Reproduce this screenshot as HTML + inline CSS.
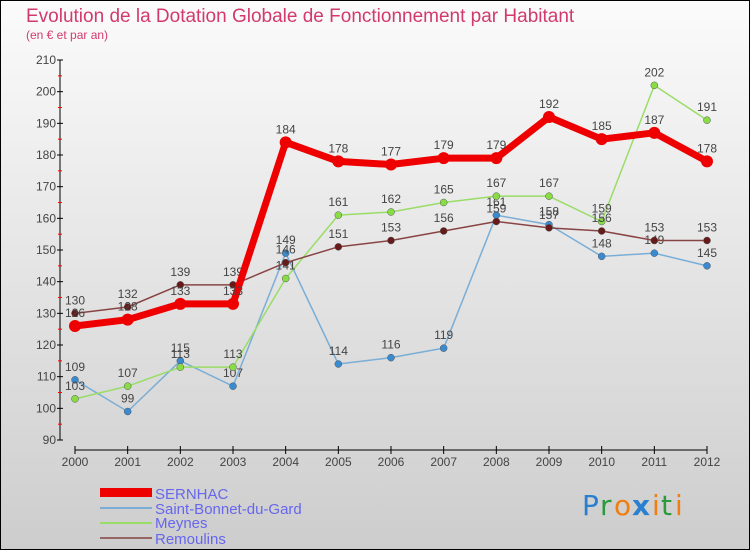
<!DOCTYPE html>
<html><head><meta charset="utf-8"><style>
body{margin:0;width:750px;height:550px;overflow:hidden;font-family:"Liberation Sans",sans-serif}
#wrap{position:absolute;left:0;top:0;width:748px;height:548px;border:1px solid #000;background:linear-gradient(#fbfbfb,#cdcdcd)}
</style></head><body>
<div id="wrap">
<svg id="c" width="750" height="550" style="position:absolute;left:-1px;top:-1px">
<text x="26" y="22" font-size="19" fill="#d23a6e">Evolution de la Dotation Globale de Fonctionnement par Habitant</text>
<text x="26" y="39" font-size="12" fill="#d23a6e">(en € et par an)</text>
<g id="axes"></g><g id="series"></g>
<g>
<rect x="100" y="488" width="52" height="9" fill="#e00"/>
<text x="155" y="499" font-size="15" fill="#6666ee">SERNHAC</text>
<rect x="100" y="507" width="52" height="2" fill="#7aaed6"/>
<text x="155" y="514" font-size="15" fill="#6666ee">Saint-Bonnet-du-Gard</text>
<rect x="100" y="522" width="52" height="2" fill="#99dd66"/>
<text x="155" y="528" font-size="15" fill="#6666ee">Meynes</text>
<rect x="100" y="537" width="52" height="2" fill="#996666"/>
<text x="155" y="544" font-size="15" fill="#6666ee">Remoulins</text>
</g>
<g font-size="28" font-family="'DejaVu Sans',sans-serif">
<text x="582" y="515" fill="#2a7fd0">P</text><text x="600" y="515" fill="#2a9a3a">r</text><text x="614" y="515" fill="#f07d10">o</text><text x="632" y="515" fill="#2a7fd0" font-weight="bold">x</text><text x="652" y="515" fill="#f07d10">i</text><text x="661" y="515" fill="#2a9a3a">t</text><text x="675" y="515" fill="#f07d10">i</text>
</g>
</svg></div>
<script>
const years=[2000,2001,2002,2003,2004,2005,2006,2007,2008,2009,2010,2011,2012];
const yTicks=[90,100,110,120,130,140,150,160,170,180,190,200,210];
const sernhac=[126,128,133,133,184,178,177,179,179,192,185,187,178];
const saintBonnet=[109,99,115,107,149,114,116,119,161,158,148,149,145];
const meynes=[103,107,113,113,141,161,162,165,167,167,159,202,191];
const remoulins=[130,132,139,139,146,151,153,156,159,157,156,153,153];
const NS="http://www.w3.org/2000/svg";
const X=i=>75+i*(632/12);
const Y=v=>440-(v-90)*(380/120);
function mk(tag,attrs,parent,txt){const e=document.createElementNS(NS,tag);for(const k in attrs)e.setAttribute(k,attrs[k]);if(txt!=null)e.textContent=txt;parent.appendChild(e);return e;}
const ax=document.getElementById('axes');
let l=mk('line',{x1:60,y1:Y(210),x2:60,y2:Y(90),stroke:'#000'},ax);


yTicks.forEach(v=>{
  mk('line',{x1:57,x2:63,y1:Y(v),y2:Y(v),stroke:'#000'},ax);
  if(v<210) mk('line',{x1:58,x2:62,y1:Y(v+5),y2:Y(v+5),stroke:'#f00'},ax);
  const t=mk('text',{x:56,y:Y(v)+4,'font-size':12,fill:'#444','text-anchor':'end'},ax,v);
  
  
});
l=mk('line',{x1:X(0),x2:X(12),y1:450,y2:450,stroke:'#000'},ax);


years.forEach((y,i)=>{
  mk('line',{x1:X(i),x2:X(i),y1:446,y2:454,stroke:'#000'},ax);
  const t=mk('text',{x:X(i),y:466,'font-size':12,fill:'#444','text-anchor':'middle'},ax,y);
  
  
});
const sg=document.getElementById('series');
function draw(vals,color,w,r,dot,name){
  const g=mk('g',{},sg);
  
  
  mk('polyline',{points:vals.map((v,i)=>X(i)+','+Y(v)).join(' '),fill:'none',stroke:color,'stroke-width':w,'stroke-linejoin':'round'},g);
  vals.forEach((v,i)=>{
    const c=mk('circle',{cx:X(i),cy:Y(v),r:r,fill:dot,stroke:dot==color?'none':'#555','stroke-width':0.5},g);
    
    
    const t=mk('text',{x:X(i),y:Y(v)-9,'font-size':12,fill:'#444','text-anchor':'middle'},g,v);
    
    
  });
}
draw(saintBonnet,'#7aaed6',1.5,3.5,'#3a8ad0','saint-bonnet');
draw(meynes,'#99dd66',1.5,3.5,'#88dd44','meynes');
draw(remoulins,'#884444',1.5,3.5,'#661a1a','remoulins');
draw(sernhac,'#ee0000',7,6,'#ee0000','sernhac');
</script>
</body></html>
